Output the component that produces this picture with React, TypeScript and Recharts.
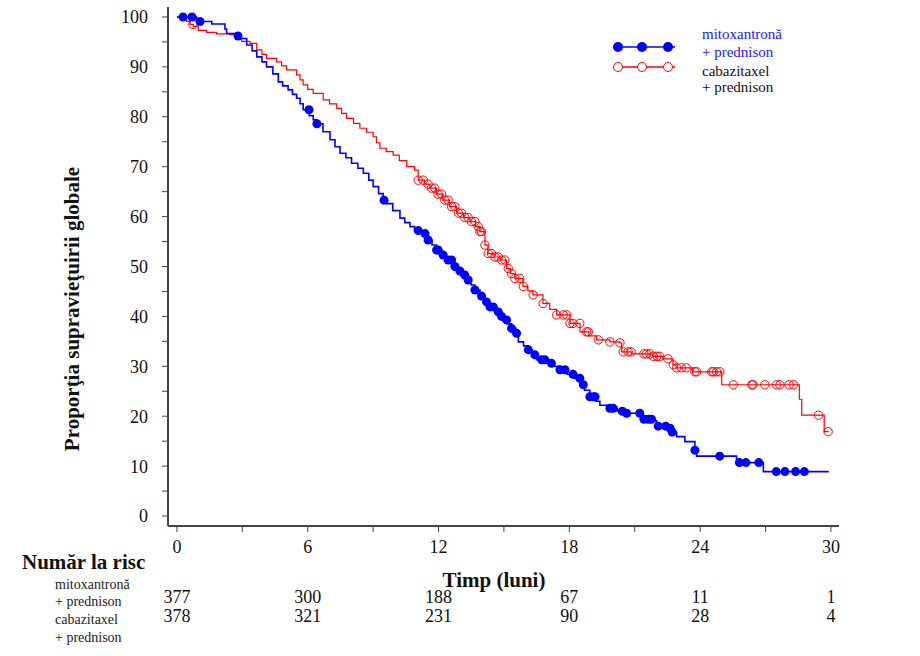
import React from "react";
import { ComposedChart, Line, Scatter, XAxis, YAxis } from "recharts";

// time axis (luni) and risk table
const timeTicks = [0, 3, 6, 9, 12, 15, 18, 21, 24, 27, 30];
const riskTimes = [0, 6, 12, 18, 24, 30];
const riskMito = [377, 300, 188, 67, 11, 1];
const riskCaba = [378, 321, 231, 90, 28, 4];
const yTicks = [0, 5, 10, 15, 20, 25, 30, 35, 40, 45, 50, 55, 60, 65, 70, 75, 80, 85, 90, 95, 100];

// mitoxantronă + prednison, Kaplan-Meier steps
const mitoTime = [
  0, 0.9, 1.06, 1.6, 2.2, 2.28, 2.7, 2.86, 3.2, 3.45, 3.66, 3.9, 4.11, 4.4, 4.65, 4.85, 5.1, 5.3, 5.49, 5.65,
  5.79, 6.07, 6.25, 6.41, 6.7, 7.02, 7.25, 7.48, 7.75, 8.01, 8.3, 8.55, 8.8, 9.0, 9.25, 9.46, 9.6, 9.9, 10.23,
  10.45, 10.69, 10.9, 11.15, 11.45, 11.7, 11.91, 12.15, 12.37, 12.67, 12.85, 13.06, 13.29, 13.5, 13.67, 13.9,
  14.13, 14.35, 14.59, 14.8, 14.97, 15.15, 15.35, 15.55, 15.66, 15.9, 16.11, 16.3, 16.5, 16.96, 17.3, 17.57,
  17.9, 18.18, 18.49, 18.7, 18.94, 19.2, 19.4, 19.86, 20.2, 20.46, 21.38, 21.79, 22.0, 22.46, 22.7, 22.92,
  23.3, 23.76, 23.84, 25.67, 26.9, 29.9,
];
const mitoSurv = [
  100, 99.4, 99.1, 98.6, 97.6, 96.7, 96.2, 95.7, 94.4, 93.2, 92.0, 91.0, 90.0, 88.6, 87.0, 86.2, 85.4, 84.5,
  83.7, 82.6, 81.4, 80.2, 79.4, 78.6, 77.0, 75.4, 74.0, 72.7, 71.8, 70.7, 69.7, 68.7, 67.3, 66.0, 64.6, 63.3,
  62.6, 61.2, 59.7, 58.8, 58.0, 57.2, 56.6, 55.3, 54.3, 53.3, 52.3, 51.3, 50.0, 49.1, 48.3, 47.3, 46.3, 45.3,
  44.1, 42.9, 41.9, 40.9, 40.0, 39.3, 38.5, 37.6, 36.6, 34.9, 34.1, 33.3, 32.3, 31.3, 30.6, 30.0, 29.3, 28.4,
  27.6, 26.3, 25.2, 23.9, 23.0, 22.2, 21.6, 21.0, 20.6, 19.4, 19.1, 18.0, 17.6, 16.8, 15.9, 14.9, 13.2, 12.0,
  10.7, 8.9, 8.9,
];
const mitoCensor = [
  0.28, 0.69, 1.06, 2.8, 6.06, 6.42, 9.5, 11.07, 11.38, 11.52, 11.91, 11.98, 12.21, 12.44, 12.6, 12.75, 12.98,
  13.2, 13.36, 13.67, 13.97, 14.2, 14.36, 14.51, 14.74, 14.89, 15.12, 15.35, 15.58, 16.12, 16.42, 16.73, 16.88,
  17.18, 17.57, 17.8, 18.17, 18.48, 18.64, 18.94, 19.1, 19.18, 19.86, 20.01, 20.43, 20.63, 21.23, 21.42, 21.62,
  21.77, 22.08, 22.42, 22.62, 22.72, 23.76, 24.9, 25.8, 26.1, 26.69, 27.49, 27.89, 28.38, 28.78,
];

// cabazitaxel + prednison
const cabaTime = [
  0, 0.3, 0.44, 0.6, 0.75, 0.98, 1.36, 1.82, 2.43, 2.7, 2.97, 3.35, 3.66, 3.9, 4.11, 4.57, 4.8, 5.03, 5.49, 5.65,
  5.79, 6.0, 6.25, 6.71, 7.0, 7.33, 7.55, 7.78, 8.1, 8.39, 8.7, 9.0, 9.15, 9.31, 9.6, 9.92, 10.2, 10.54, 10.9,
  11.07, 11.35, 11.6, 11.9, 12.2, 12.5, 12.83, 13.15, 13.44, 13.7, 13.9, 14.13, 14.27, 14.55, 14.82, 15.12,
  15.3, 15.5, 15.87, 16.1, 16.33, 16.79, 17.1, 17.42, 18.03, 18.49, 18.9, 19.25, 19.86, 20.32, 20.4, 20.86,
  21.8, 22.3, 22.75, 22.9, 23.67, 24.99, 28.55, 28.66, 29.69, 29.9,
];
const cabaSurv = [
  100, 99.4, 99.1, 98.5, 98.1, 97.3, 96.9, 96.6, 96.4, 95.6, 95.1, 94.7, 93.4, 92.5, 91.7, 91.0, 90.2, 89.4,
  88.4, 87.4, 86.4, 85.5, 84.7, 83.4, 82.6, 81.7, 80.7, 79.7, 78.7, 77.7, 76.9, 76.0, 74.8, 73.7, 73.0, 72.3,
  71.2, 70.0, 69.3, 67.3, 66.5, 65.7, 64.5, 63.3, 62.0, 60.7, 59.8, 59.0, 58.0, 57.0, 54.3, 52.6, 51.9, 51.3,
  49.6, 48.6, 47.6, 46.0, 45.1, 44.3, 42.6, 41.4, 40.3, 38.6, 36.9, 36.1, 35.3, 34.9, 34.7, 32.9, 32.5, 32.0,
  31.5, 30.3, 29.7, 28.9, 26.3, 23.4, 20.2, 16.9, 16.9,
];
const cabaCensor = [
  0.73, 11.07, 11.3, 11.52, 11.68, 11.83, 11.98, 12.14, 12.29, 12.44, 12.6, 12.75, 12.91, 13.05, 13.21, 13.36,
  13.51, 13.67, 13.82, 13.9, 13.97, 14.13, 14.28, 14.43, 14.59, 14.74, 14.89, 15.04, 15.2, 15.35, 15.5, 15.73,
  15.89, 16.34, 16.8, 17.42, 17.72, 17.88, 18.03, 18.17, 18.48, 18.79, 18.87, 19.33, 19.86, 20.32, 20.47, 20.7,
  20.83, 21.42, 21.54, 21.69, 21.85, 22.02, 22.15, 22.52, 22.77, 22.92, 23.14, 23.37, 23.76, 23.84, 24.53,
  24.61, 24.76, 24.9, 25.52, 26.37, 26.43, 26.97, 27.51, 27.66, 28.08, 28.28, 29.43, 29.87,
];

const FONT = "'Liberation Serif', 'Times New Roman', serif";
const BLUE = "#0000ff";
const RED = "#ff0000";

const toSteps = (times: number[], surv: number[]) => times.map((t, i) => ({ t, s: surv[i] }));

const survAt = (times: number[], surv: number[], t: number) => {
  let s = surv[0];
  for (let i = 0; i < times.length; i++) if (times[i] <= t) s = surv[i];
  return s;
};

const mitoData = toSteps(mitoTime, mitoSurv);
const cabaData = toSteps(cabaTime, cabaSurv);
const mitoMarks = mitoCensor.map((t) => ({ t, s: survAt(mitoTime, mitoSurv, t) }));
const cabaMarks = cabaCensor.map((t) => ({ t, s: survAt(cabaTime, cabaSurv, t) }));

const serif = (size: number, extra: React.CSSProperties = {}) => ({ fontFamily: FONT, fontSize: size, ...extra });

function TimeTick(props: any) {
  const { x, y, payload } = props;
  const i = riskTimes.indexOf(payload.value);
  if (i < 0) return <g />;
  return (
    <g>
      <text x={x} y={y + 21} textAnchor="middle" fill="#111" style={serif(18)}>{payload.value}</text>
      <text x={x} y={y + 71} textAnchor="middle" fill="#111" style={serif(18)}>{riskMito[i]}</text>
      <text x={x} y={y + 90} textAnchor="middle" fill="#111" style={serif(18)}>{riskCaba[i]}</text>
    </g>
  );
}

const FilledDot = (p: any) => <circle cx={p.cx} cy={p.cy} r={4.5} fill={BLUE} />;
const HollowDot = (p: any) => <circle cx={p.cx} cy={p.cy} r={4.2} fill="none" stroke={RED} strokeWidth={1} />;

export default function App() {
  return (
    <div style={{ position: "absolute", left: 0, top: 0, width: 920, height: 656, background: "#fff" }}>
      <ComposedChart width={920} height={656} margin={{ top: 7, right: 81, bottom: 0, left: 0 }}>
        <XAxis
          dataKey="t"
          type="number"
          domain={[-0.41, 30.37]}
          allowDataOverflow
          ticks={timeTicks}
          height={130}
          tickSize={6}
          tickMargin={0}
          axisLine={{ stroke: "#444", strokeWidth: 2 }}
          tickLine={{ stroke: "#444" }}
          tick={<TimeTick />}
          interval={0}
        />
        <YAxis
          dataKey="s"
          type="number"
          domain={[-2, 102]}
          allowDataOverflow
          ticks={yTicks}
          width={168}
          tickSize={6}
          tickMargin={14}
          interval={0}
          axisLine={{ stroke: "#444", strokeWidth: 2 }}
          tickLine={{ stroke: "#444" }}
          tick={{ fontSize: 18, fontFamily: FONT, fill: "#111" }}
          tickFormatter={(v: number) => (v % 10 === 0 ? String(v) : "")}
        />
        <Line data={cabaData} dataKey="s" type="stepAfter" stroke={RED} strokeWidth={1.2} dot={false} activeDot={false} isAnimationActive={false} />
        <Line data={mitoData} dataKey="s" type="stepAfter" stroke={BLUE} strokeWidth={1.6} dot={false} activeDot={false} isAnimationActive={false} />
        <Scatter data={cabaMarks} dataKey="s" shape={<HollowDot />} isAnimationActive={false} />
        <Scatter data={mitoMarks} dataKey="s" shape={<FilledDot />} isAnimationActive={false} />
      </ComposedChart>
      <svg width={920} height={656} style={{ position: "absolute", left: 0, top: 0, pointerEvents: "none" }}>
        <text x={79} y={309} transform="rotate(-90 79 309)" textAnchor="middle" fill="#111" style={serif(21, { fontWeight: "bold" })}>
          Proporţia supravieţuirii globale
        </text>
        <text x={494} y={587} textAnchor="middle" fill="#111" style={serif(21, { fontWeight: "bold" })}>Timp (luni)</text>
        <text x={22} y={569} fill="#111" style={serif(21, { fontWeight: "bold" })}>Număr la risc</text>
        <text x={55} y={589} fill="#222" style={serif(14)}>mitoxantronă</text>
        <text x={55} y={606} fill="#222" style={serif(14)}>+ prednison</text>
        <text x={55} y={624} fill="#222" style={serif(14)}>cabazitaxel</text>
        <text x={55} y={642} fill="#222" style={serif(14)}>+ prednison</text>
        <line x1={613} x2={675} y1={47} y2={47} stroke={BLUE} strokeWidth={1.5} />
        {[618, 642, 668].map((cx) => <circle key={cx} cx={cx} cy={47} r={5} fill={BLUE} />)}
        <line x1={613} x2={675} y1={67} y2={67} stroke={RED} strokeWidth={1.5} />
        {[618, 642, 668].map((cx) => <circle key={cx} cx={cx} cy={67} r={4.5} fill="#fff" stroke={RED} />)}
        <text x={702} y={39} fill="#2020ff" style={serif(15)}>mitoxantronă</text>
        <text x={702} y={57} fill="#2020ff" style={serif(15)}>+ prednison</text>
        <text x={702} y={76} fill="#111" style={serif(15)}>cabazitaxel</text>
        <text x={702} y={92} fill="#111" style={serif(15)}>+ prednison</text>
      </svg>
    </div>
  );
}
